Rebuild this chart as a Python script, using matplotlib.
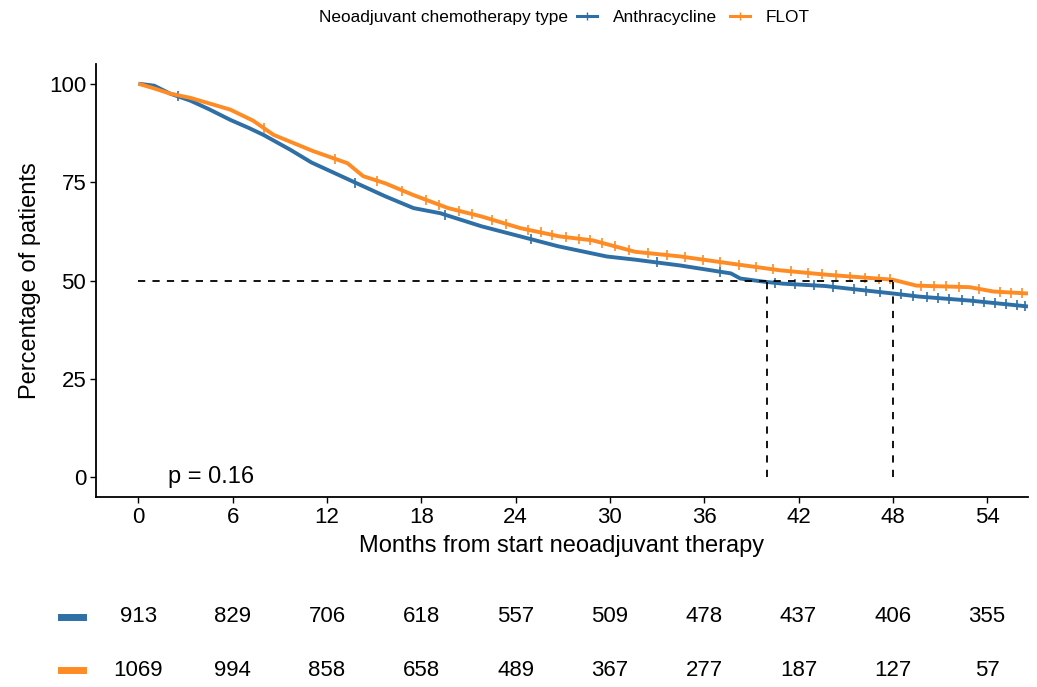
import matplotlib
matplotlib.use('Agg')
import matplotlib.pyplot as plt
import matplotlib.transforms as mtransforms
from matplotlib.lines import Line2D
import numpy as np

plt.rcParams['font.family'] = ['Liberation Sans', 'DejaVu Sans']

# Kaplan-Meier curves (months, % of patients)
anthra_t = [0, 1, 2, 3.3, 4.5, 5.85, 7, 7.95, 9.67, 11, 12.2, 14, 15.7, 17.5, 19.2, 21.8,
            24.3, 26.7, 29.8, 31.6, 34.5, 37.7, 38.3, 39.8, 41, 43.7, 48, 49.7, 52.9, 56.6]
anthra_s = [100, 99.5, 97.5, 95.7, 93.5, 90.8, 88.8, 87.0, 83.2, 80.0, 77.8, 74.5, 71.4, 68.4, 67.1, 63.8,
            61.2, 58.7, 56.1, 55.3, 53.8, 51.8, 50.5, 49.7, 49.2, 48.6, 46.7, 45.9, 44.9, 43.4]
flot_t = [0, 1, 2, 3.3, 4.5, 5.85, 7.3, 8.6, 11.1, 13.3, 14.3, 15.7, 17.5, 19.7, 21.8, 24.3,
          26.8, 28.9, 31.6, 34.5, 37.7, 40.8, 43.7, 48, 49.5, 52.9, 54.4, 56.6]
flot_s = [100, 98.8, 97.5, 96.4, 95.0, 93.4, 90.6, 87.0, 82.9, 79.8, 76.5, 74.7, 71.7, 68.4, 66.3, 63.3,
          61.2, 60.2, 57.3, 56.1, 54.3, 52.6, 51.5, 50.2, 48.7, 48.3, 47.2, 46.7]

# censoring marks (months)
anthra_cens = [2.5, 13.8, 19.5, 25.0, 33.0, 37.0, 40.5, 41.8, 43.0, 44.2, 45.5, 46.3, 47.2, 48.5,
               49.3, 50.2, 50.9, 51.6, 52.4, 53.1, 53.8, 54.5, 55.2, 55.9, 56.4]
flot_cens = [8.0, 12.5, 15.2, 16.8, 18.3, 19.1, 20.4, 21.2, 22.5, 23.4, 24.8, 25.6, 26.3, 27.2, 28.0,
             28.7, 29.5, 30.3, 31.2, 32.4, 33.6, 34.8, 35.9, 37.0, 38.2, 39.3, 40.4, 41.5, 42.6,
             43.5, 44.4, 45.3, 46.2, 47.1, 47.8, 49.8, 50.6, 51.4, 52.2, 53.5, 54.8, 55.5, 56.2]

medians = [40.0, 48.0]
p_text = 'p = 0.16'

groups = ['Anthracycline', 'FLOT']
colors = ['#2e6fa6', '#ff8b24']
xticks = [0, 6, 12, 18, 24, 30, 36, 42, 48, 54]
risk_anthra = [913, 829, 706, 618, 557, 509, 478, 437, 406, 355]
risk_flot = [1069, 994, 858, 658, 489, 367, 277, 187, 127, 57]

fig = plt.figure(figsize=(10.37, 6.87), dpi=100)
ax = fig.add_axes([0.0926, 0.2766, 0.8987, 0.6302])

series = [(anthra_t, anthra_s, anthra_cens), (flot_t, flot_s, flot_cens)]
for (t, s, c), col, name in zip(series, colors, groups):
    ax.plot(t, s, color=col, lw=2.8, solid_capstyle='butt', label=name)
    cy = np.interp(c, t, s)
    ax.plot(c, cy, ls='none', marker='|', ms=7, mew=1.2, color=col)

# median survival lines
ax.plot([0, max(medians)], [50, 50], color='black', ls=(0, (4, 4)), lw=1.3)
for m in medians:
    ax.plot([m, m], [0, 50], color='black', ls=(0, (4, 4)), lw=1.3)

ax.text(1.9, 0, p_text, fontsize=17, va='center', ha='left')

ax.set_xlim(-2.7, 56.6)
ax.set_ylim(-5, 105)
ax.set_xticks(xticks)
ax.set_yticks([0, 25, 50, 75, 100])
ax.tick_params(labelsize=16, length=4, width=1, color='black', pad=3)
ax.set_xlabel('Months from start neoadjuvant therapy', fontsize=17, labelpad=5)
ax.set_ylabel('Percentage of patients', fontsize=17, labelpad=6)
for side in ['top', 'right']:
    ax.spines[side].set_visible(False)
for side in ['left', 'bottom']:
    ax.spines[side].set_linewidth(1.3)

# legend on top
fig.text(0.5475, 0.974, 'Neoadjuvant chemotherapy type', fontsize=12.4, ha='right', va='center')
handles = [Line2D([], [], color=c, lw=2.2, marker='|', ms=6, mew=1) for c in colors]
fig.legend(handles, groups, loc='center left', bbox_to_anchor=(0.556, 0.974), ncol=2,
           frameon=False, fontsize=12.4, borderpad=0, borderaxespad=0, handlelength=1.2,
           handletextpad=0.9, columnspacing=0.75)

# number at risk table
trans = mtransforms.blended_transform_factory(ax.transData, fig.transFigure)
row_y = [0.1019, 0.0247]
for vals, y, col in zip([risk_anthra, risk_flot], row_y, colors):
    for x, v in zip(xticks, vals):
        ax.text(x, y, str(v), transform=trans, fontsize=16, ha='center', va='center', clip_on=False)
    fig.add_artist(Line2D([0.059, 0.080], [y, y], color=col, lw=5, transform=fig.transFigure))

fig.savefig('out.png', dpi=100)
